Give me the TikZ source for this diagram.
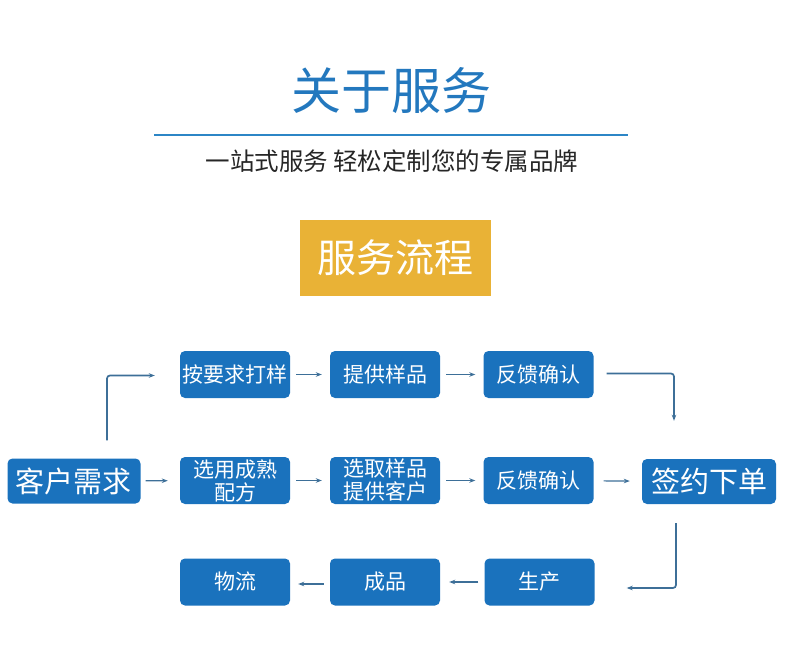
\documentclass[tikz,border=0pt]{standalone}
\usepackage{fontspec}
\setmainfont{Noto Sans CJK SC}
\usetikzlibrary{arrows.meta}
\definecolor{boxblue}{HTML}{1A72BD}
\definecolor{titleblue}{HTML}{2378BE}
\definecolor{ruleblue}{HTML}{2C86C6}
\definecolor{tagorange}{HTML}{E9B236}
\definecolor{arrowblue}{HTML}{3D6F98}
\begin{document}
\begin{tikzpicture}[x=1pt, y=-1pt,
		stepbox/.style={rectangle, rounded corners=5pt, fill=boxblue, text=white,
			minimum width=110pt, minimum height=47pt, inner sep=0pt, align=center,
			font=\fontsize{21}{23}\selectfont},
		bigbox/.style={stepbox, minimum width=133pt, minimum height=45pt,
			font=\fontsize{29}{31}\selectfont},
		flow/.style={draw=arrowblue, line width=1.2pt, -{Stealth[length=6pt, width=4.5pt]},
			shorten <=6pt, shorten >=8pt},
		turn/.style={draw=arrowblue, line width=1.7pt, rounded corners=3pt,
			-{Stealth[length=6pt, width=4.5pt]}}]
	\useasboundingbox (0,0) rectangle (790,661);
	
	% ================= 标题区 =================
	\node[text=titleblue, font=\fontsize{50}{52}\selectfont] (title) at (391,90) {关于服务};
	\draw[ruleblue, line width=2.5pt] (154,135) -- (628,135);
	\node[text=black!85, font=\fontsize{24.5}{26}\selectfont] (slogan) at (392,161) {一站式服务 轻松定制您的专属品牌};
	\node[fill=tagorange, text=white, minimum width=191pt, minimum height=76pt,
		font=\fontsize{39}{41}\selectfont] (tag) at (395.5,258) {服务流程};
	
	% ================= 第一行：打样 =================
	\node[stepbox] (sample) at (235,374.5) {按要求打样};
	\node[stepbox] (supply) at (385,374.5) {提供样品};
	\node[stepbox] (fbA) at (538.5,374.5) {反馈确认};
	
	% ================= 第二行：成熟配方 =================
	\node[bigbox] (need) at (74,481) {客户需求};
	\node[stepbox] (recipe) at (235,480.5) {选用成熟\\配方};
	\node[stepbox] (pick) at (385,480.5) {选取样品\\提供客户};
	\node[stepbox] (fbB) at (538.5,480.5) {反馈确认};
	\node[bigbox, minimum width=134pt] (sign) at (709,481.5) {签约下单};
	
	% ================= 第三行：生产交付 =================
	\node[stepbox] (logis) at (235,582) {物流};
	\node[stepbox] (goods) at (385,582) {成品};
	\node[stepbox] (prod) at (539.5,582) {生产};
	
	% 直线箭头
	\draw[flow] (sample) -- (supply);
	\draw[flow] (supply) -- (fbA);
	\draw[flow, shorten <=5pt, shorten >=12pt] (need) -- (recipe);
	\draw[flow] (recipe) -- (pick);
	\draw[flow] (pick) -- (fbB);
	\draw[flow, shorten <=10pt, shorten >=12pt] (fbB) -- (sign);
	\draw[flow, shorten >=9pt] (prod) -- (goods);
	\draw[flow, shorten >=8pt] ([yshift=-2pt]goods.west) -- ([yshift=-2pt]logis.east);
	
	% 折线箭头 (两端留空)
	\draw[turn] ([xshift=33pt, yshift=18pt]need.north) |- ([xshift=-25pt, yshift=-1pt]sample.west);
	\draw[turn] ([xshift=13pt, yshift=1pt]fbA.east) -| ([xshift=-35pt, yshift=38pt]sign.north);
	\draw[turn] ([xshift=-33pt, yshift=-19pt]sign.south) |- ([xshift=32pt, yshift=-6pt]prod.east);
	
\end{tikzpicture}
\end{document}
